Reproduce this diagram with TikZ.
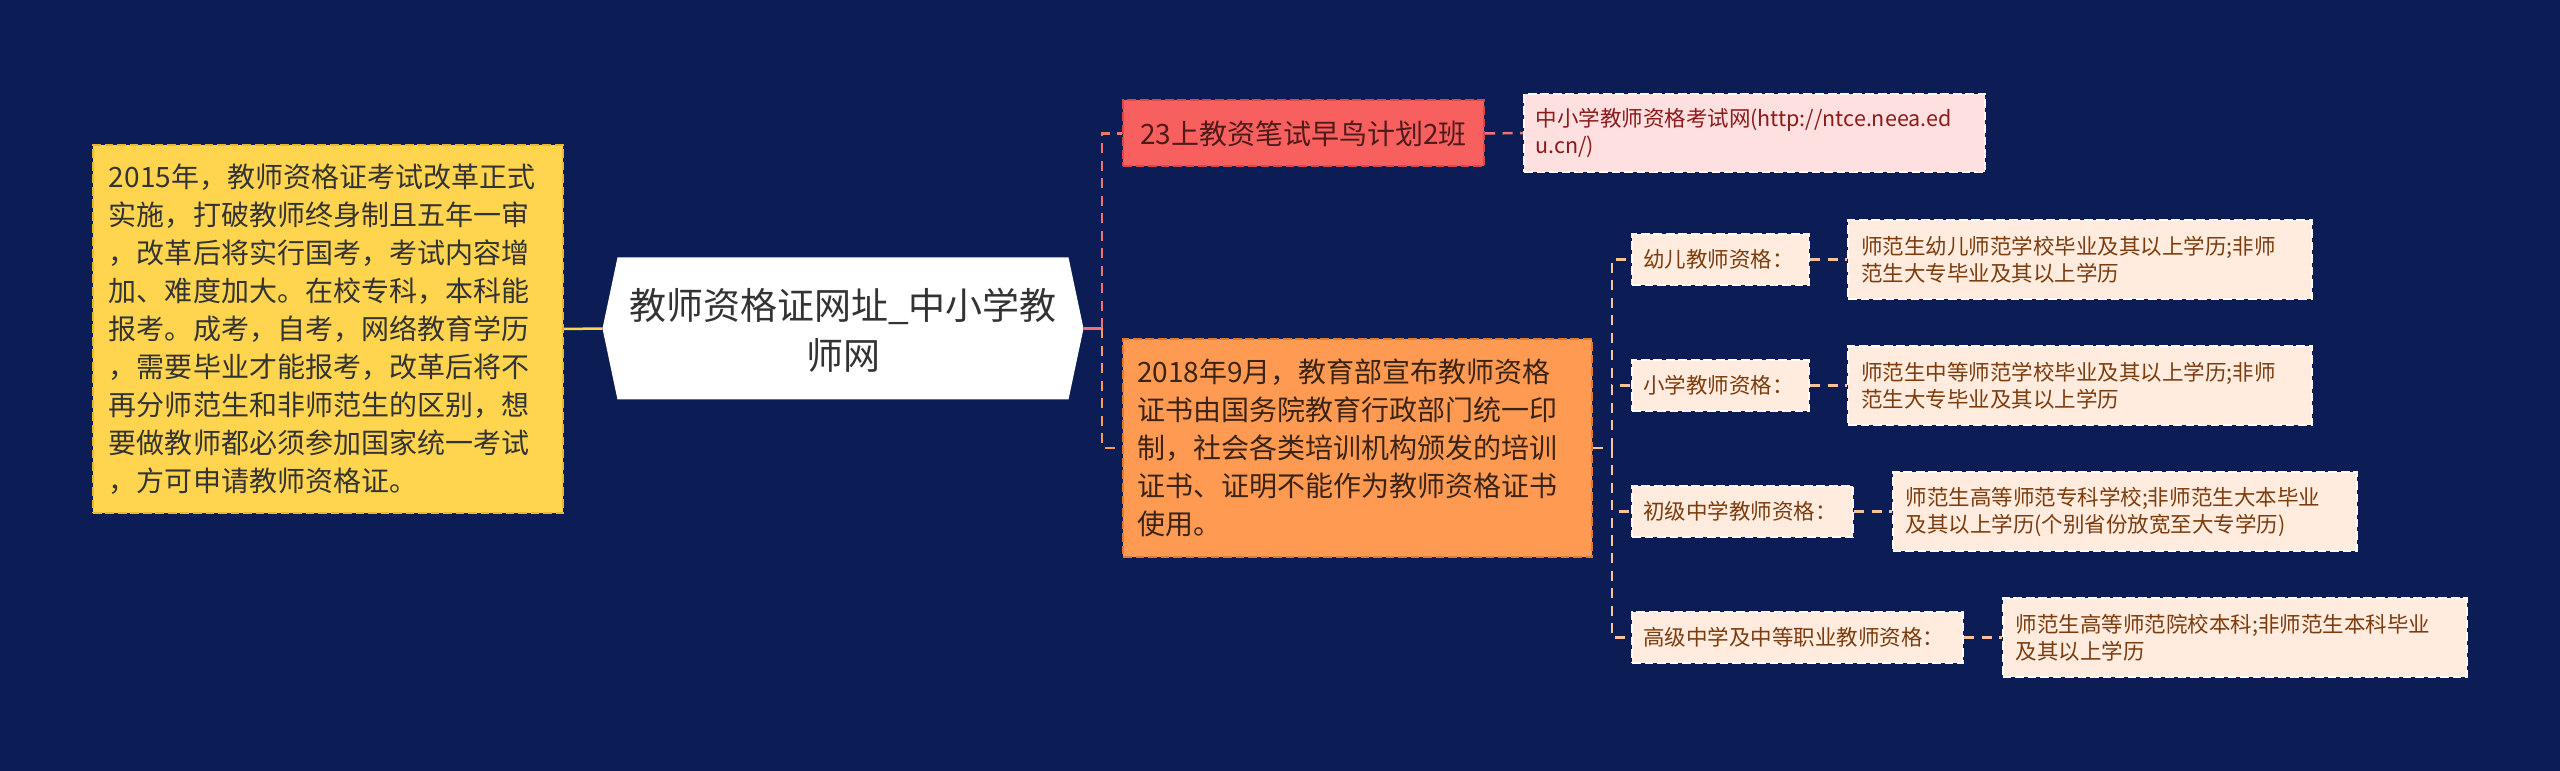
\documentclass[tikz,border=0pt]{standalone}
\usepackage{fontspec}
\setmainfont{Noto Sans CJK SC}
\definecolor{bg}{HTML}{0C1D55}
\definecolor{yfill}{HTML}{FFD54F}
\definecolor{yline}{HTML}{E8B830}
\definecolor{rfill}{HTML}{F7605E}
\definecolor{rline}{HTML}{D94848}
\definecolor{rtext}{HTML}{4F1A1A}
\definecolor{pfill}{HTML}{FFE0E0}
\definecolor{ptext}{HTML}{8B1A1A}
\definecolor{ofill}{HTML}{FF9A52}
\definecolor{oline}{HTML}{E07A30}
\definecolor{otext}{HTML}{3B2415}
\definecolor{sfill}{HTML}{FFECDF}
\definecolor{stext}{HTML}{7B3C0E}
\definecolor{cred}{HTML}{F07272}
\definecolor{corg}{HTML}{FF9A52}
\definecolor{cpeach}{HTML}{F7C29A}
\definecolor{ctxt}{HTML}{333333}
\tikzset{
  boxed/.style={draw, line width=0.8pt, dash pattern=on 3.5pt off 1.5pt, inner ysep=0pt, align=left},
  bigtxt/.style={font=\fontsize{11.2pt}{15.2pt}\selectfont},
  smalltxt/.style={font=\fontsize{8.6pt}{10.8pt}\selectfont},
  conn/.style={line width=1pt, dash pattern=on 4pt off 3pt},
  sublabel/.style={boxed, smalltxt, fill=sfill, draw=white!85!sfill, text=stext, minimum height=20.4pt, inner xsep=4.4pt},
  subleaf/.style={boxed, smalltxt, fill=sfill, draw=white!85!sfill, text=stext, minimum height=31.6pt, text width=175.2pt, inner xsep=5.2pt}
}
\begin{document}
\begin{tikzpicture}[x=0.4pt,y=-0.4pt]
\fill[bg] (0,0) rectangle (2560,771);
\useasboundingbox (0,0) rectangle (2560,771);

% left yellow box
\node[boxed, bigtxt, fill=yfill, draw=yline, text=ctxt, inner xsep=6.4pt, text width=175.2pt, minimum height=147.2pt] (yel) at (328,329)
{2015年，教师资格证考试改革正式\\实施，打破教师终身制且五年一审\\，改革后将实行国考，考试内容增\\加、难度加大。在校专科，本科能\\报考。成考，自考，网络教育学历\\，需要毕业才能报考，改革后将不\\再分师范生和非师范生的区别，想\\要做教师都必须参加国家统一考试\\，方可申请教师资格证。};

% central hexagon
\node[minimum width=192pt, minimum height=56.4pt, inner sep=0pt] (c) at (843,328.5) {};
\fill[white] (c.west) -- ([xshift=6pt]c.north west) -- ([xshift=-6pt]c.north east) -- (c.east) -- ([xshift=-6pt]c.south east) -- ([xshift=6pt]c.south west) -- cycle;
\node[align=center, text=ctxt, font=\fontsize{14.8pt}{20pt}\selectfont, inner sep=0pt] (ct) at (843,330) {教师资格证网址\_中小学教\\师网};

% red branch
\node[boxed, bigtxt, fill=rfill, draw=rline, text=rtext, minimum width=144.4pt, minimum height=26.4pt, align=center] (red) at (1303.5,133.5) {23上教资笔试早鸟计划2班};
\node[boxed, smalltxt, fill=pfill, draw=white!80!pfill, text=ptext, inner xsep=4.6pt, text width=175.2pt, minimum height=31.2pt] (pink) at (1754.5,133) {中小学教师资格考试网(http://ntce.neea.ed\\u.cn/)};

% orange branch
\node[boxed, bigtxt, fill=ofill, draw=oline, text=otext, inner xsep=5.6pt, text width=176.4pt, minimum height=87.2pt] (org) at (1357.5,448)
{2018年9月，教育部宣布教师资格\\证书由国务院教育行政部门统一印\\制，社会各类培训机构颁发的培训\\证书、证明不能作为教师资格证书\\使用。};

% sub labels
\node[sublabel, text width=62pt] (b1) at (1720.5,259.5) {幼儿教师资格：};
\node[sublabel, text width=62pt] (b2) at (1720.5,385.5) {小学教师资格：};
\node[sublabel, text width=79.6pt] (b3) at (1742.5,511.5) {初级中学教师资格：};
\node[sublabel, text width=123.6pt] (b4) at (1797.5,637.5) {高级中学及中等职业教师资格：};

% sub leaves
\node[subleaf] (l1) at (2080,259.5) {师范生幼儿师范学校毕业及其以上学历;非师\\范生大专毕业及其以上学历};
\node[subleaf] (l2) at (2080,385.5) {师范生中等师范学校毕业及其以上学历;非师\\范生大专毕业及其以上学历};
\node[subleaf] (l3) at (2124.5,511.5) {师范生高等师范专科学校;非师范生大本毕业\\及其以上学历(个别省份放宽至大专学历)};
\node[subleaf] (l4) at (2234.5,637.5) {师范生高等师范院校本科;非师范生本科毕业\\及其以上学历};

% connectors
\draw[yfill, line width=1pt] (yel.east) -- (c.west);
\coordinate (j1) at (1102,328.5);
\draw[cred, line width=1pt] (c.east) -- (j1);
\draw[cred, conn] (j1) |- (red.west);
\draw[corg, conn] (j1) |- (org.west);
\draw[cred, conn] (red.east) -- (pink.west);
\coordinate (j2) at (1612,448);
\draw[cpeach, conn] (org.east) -- (j2);
\draw[cpeach, conn] (j2) |- (b1.west);
\draw[cpeach, conn] (j2) |- (b2.west);
\draw[cpeach, conn] (j2) |- (b3.west);
\draw[cpeach, conn] (j2) |- (b4.west);
\draw[cpeach, conn] (b1.east) -- (l1.west);
\draw[cpeach, conn] (b2.east) -- (l2.west);
\draw[cpeach, conn] (b3.east) -- (l3.west);
\draw[cpeach, conn] (b4.east) -- (l4.west);
\end{tikzpicture}
\end{document}
